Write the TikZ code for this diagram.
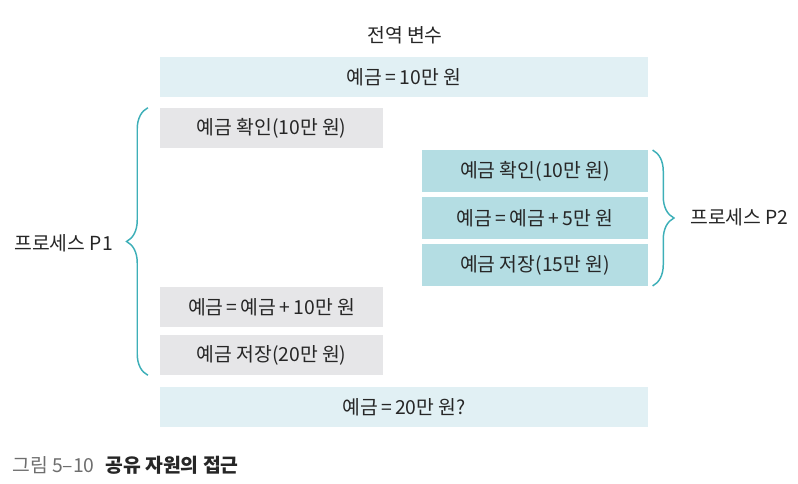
\documentclass[tikz,border=0pt]{standalone}
\usepackage{fontspec}
\setmainfont{Noto Sans CJK KR}
\usetikzlibrary{decorations.pathreplacing}
\definecolor{globalbg}{HTML}{E1F0F4}
\definecolor{ponebg}{HTML}{E6E6E8}
\definecolor{ptwobg}{HTML}{B4DDE3}
\definecolor{bracecol}{HTML}{3DAFB8}
\definecolor{capgray}{HTML}{6E6E6E}

\begin{document}
\begin{tikzpicture}[x=0.75pt,y=-0.75pt,
  txt/.style={font=\fontsize{14.5}{16}\selectfont,text=black!85},
  gbox/.style={txt,fill=globalbg,minimum width=366pt,minimum height=30pt,inner sep=0pt},
  pone/.style={txt,fill=ponebg,minimum width=167pt,minimum height=30pt,inner sep=0pt},
  ptwo/.style={txt,fill=ptwobg,minimum width=170pt,minimum height=31pt,inner sep=0pt},
  brc/.style={draw=bracecol,line width=1.1pt,decorate,decoration={brace,amplitude=16pt}}]
  \useasboundingbox (0,0) rectangle (798,484);
  % ===================== global variable =====================
  \node[txt] (title) at (405,35) {전역 변수};
  \node[gbox] (glob) at (404,77) {예금\,=\,10만 원};
  % ===================== process P1 =====================
  \node[pone] (pa) at (271.5,128) {예금 확인(10만 원)};
  \node[pone] (pb) at (271.5,307) {예금\,=\,예금\,+\,10만 원};
  \node[pone] (pc) at (271.5,355) {예금 저장(20만 원)};
  % ===================== process P2 =====================
  \node[ptwo] (qa) at (535,171) {예금 확인(10만 원)};
  \node[ptwo] (qb) at (535,218) {예금\,=\,예금\,+\,5만 원};
  \node[ptwo] (qc) at (535,265) {예금 저장(15만 원)};
  % ===================== result =====================
  \node[gbox] (res) at (404,407) {예금\,=\,20만 원?};
  % ---------- braces ----------
  \coordinate (lb) at ([xshift=-9pt]pc.south west);
  \coordinate (lt) at ([xshift=-9pt]pa.north west);
  \draw[brc] (lb) -- (lt);
  \coordinate (rt) at ([xshift=3pt]qa.north east);
  \coordinate (rb) at ([xshift=3pt]qc.south east);
  \draw[brc] (rt) -- (rb);
  \node[txt,anchor=east,inner sep=0pt] (pone) at (113,243) {프로세스 P1};
  \node[txt,anchor=west,inner sep=0pt] (ptwo) at (690,217) {프로세스 P2};
  % ---------- caption ----------
  \node[anchor=west,inner sep=0pt,font=\fontsize{14.5}{16}\selectfont] (cap) at (12,465)
    {\textcolor{capgray}{그림 5–10}\hspace{8pt}{\bfseries\color{black!85}공유 자원의 접근}};
\end{tikzpicture}
\end{document}
